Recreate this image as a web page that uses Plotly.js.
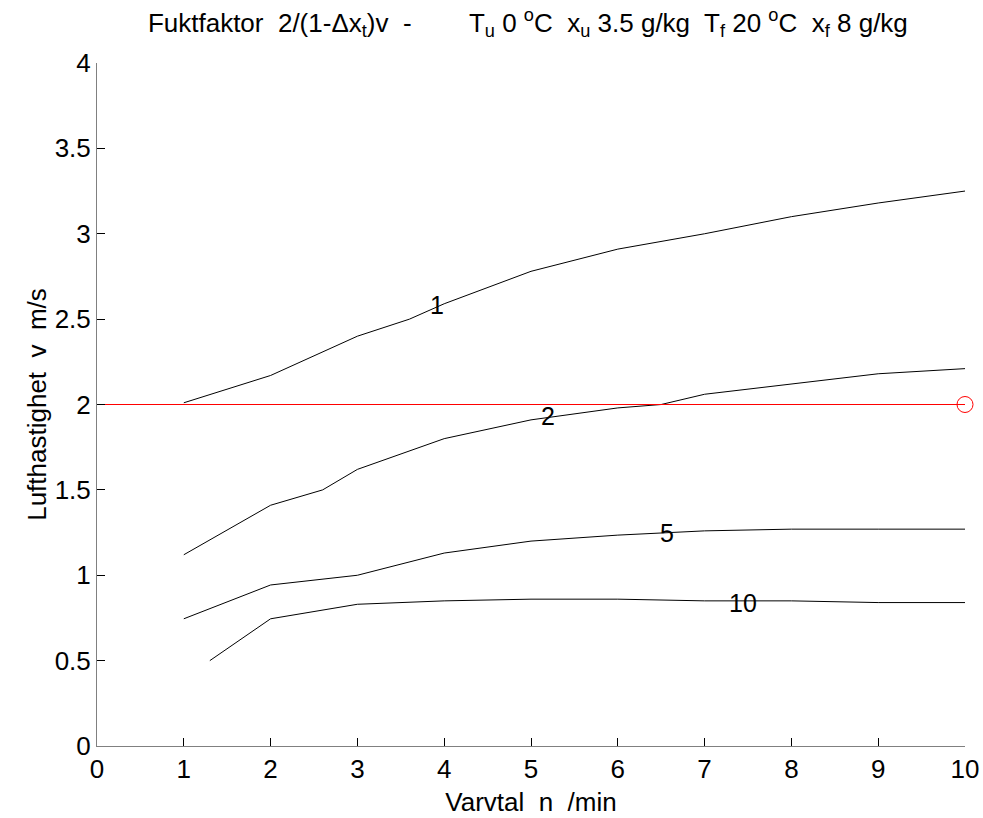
<!DOCTYPE html>
<html>
<head>
<meta charset="utf-8">
<script src="https://cdn.plot.ly/plotly-3.0.1.min.js"></script>
<style>html,body{margin:0;padding:0;background:#fff;}#chart{width:983px;height:818px;}</style>
</head>
<body>
<div id="chart"></div>
<script>
// Contour level 1
const x1 = [1, 2, 3, 3.6, 4, 5, 6, 7, 8, 9, 10];
const y1 = [2.01, 2.17, 2.40, 2.50, 2.59, 2.78, 2.91, 3.00, 3.10, 3.18, 3.25];
// Contour level 2
const x2 = [1, 2, 2.6, 3, 4, 5, 6, 6.5, 7, 8, 9, 10];
const y2 = [1.12, 1.41, 1.50, 1.62, 1.80, 1.91, 1.98, 2.00, 2.06, 2.12, 2.18, 2.21];
// Contour level 5
const x5 = [1, 2, 3, 4, 5, 6, 7, 8, 9, 10];
const y5 = [0.745, 0.943, 1.00, 1.13, 1.20, 1.235, 1.26, 1.27, 1.27, 1.27];
// Contour level 10
const x10 = [1.3, 2, 3, 4, 5, 6, 7, 8, 9, 10];
const y10 = [0.50, 0.745, 0.83, 0.85, 0.86, 0.86, 0.85, 0.85, 0.84, 0.84];
// Reference line
const refX = [0, 10];
const refY = [2, 2];
const markX = [10];
const markY = [2];
// Contour labels
const labelText = ["1", "2", "5", "10"];
const labelX = [3.92, 5.2, 6.57, 7.44];
const labelY = [2.58, 1.93, 1.25, 0.84];

const FONT = 'Liberation Sans, Arial, Helvetica, sans-serif';
const blk = {color: '#000', width: 1};
const traces = [
  {x: x1, y: y1, mode: 'lines', line: blk},
  {x: x2, y: y2, mode: 'lines', line: blk},
  {x: x5, y: y5, mode: 'lines', line: blk},
  {x: x10, y: y10, mode: 'lines', line: blk},
  {x: refX, y: refY, mode: 'lines', line: {color: '#ff0000', width: 1}},
  {x: markX, y: markY, mode: 'markers', marker: {symbol: 'circle-open', size: 16, color: '#ff0000', line: {width: 1, color: '#ff0000'}}, cliponaxis: false}
];

const annotations = labelText.map((t, i) => ({
  x: labelX[i], y: labelY[i], text: t, showarrow: false,
  font: {family: FONT, size: 25, color: '#000'},
  bgcolor: 'rgba(255,255,255,0)', borderpad: 0
}));

const layout = {
  width: 983, height: 818,
  margin: {l: 97, r: 18, t: 63, b: 72},
  paper_bgcolor: '#fff', plot_bgcolor: '#fff',
  showlegend: false,
  title: {
    text: 'Fuktfaktor  2/(1-Δx<sub>t</sub>)v  -        T<sub>u</sub> 0 <sup>o</sup>C  x<sub>u</sub> 3.5 g/kg  T<sub>f</sub> 20 <sup>o</sup>C  x<sub>f</sub> 8 g/kg',
    font: {family: FONT, size: 26, color: '#000'},
    x: 0.537, xanchor: 'center', y: 0.972, yanchor: 'middle'
  },
  font: {family: FONT, size: 25, color: '#000'},
  xaxis: {
    range: [0, 10], tickmode: 'linear', tick0: 0, dtick: 1,
    ticks: 'inside', ticklen: 8, tickcolor: '#000', tickwidth: 1,
    showline: true, linecolor: '#808080', linewidth: 1,
    showgrid: false, zeroline: false, mirror: false,
    tickfont: {size: 26},
    title: {text: 'Varvtal  n  /min', font: {size: 26}, standoff: 9}
  },
  yaxis: {
    range: [0, 4], tickmode: 'linear', tick0: 0, dtick: 0.5,
    ticks: 'inside', ticklen: 8, tickcolor: '#000', tickwidth: 1,
    showline: true, linecolor: '#808080', linewidth: 1,
    showgrid: false, zeroline: false, mirror: false,
    tickfont: {size: 26},
    title: {text: 'Lufthastighet  v  m/s', font: {size: 26}, standoff: 0}
  },
  annotations: annotations
};

Plotly.newPlot('chart', traces, layout, {displayModeBar: false, staticPlot: true});
</script>
</body>
</html>
